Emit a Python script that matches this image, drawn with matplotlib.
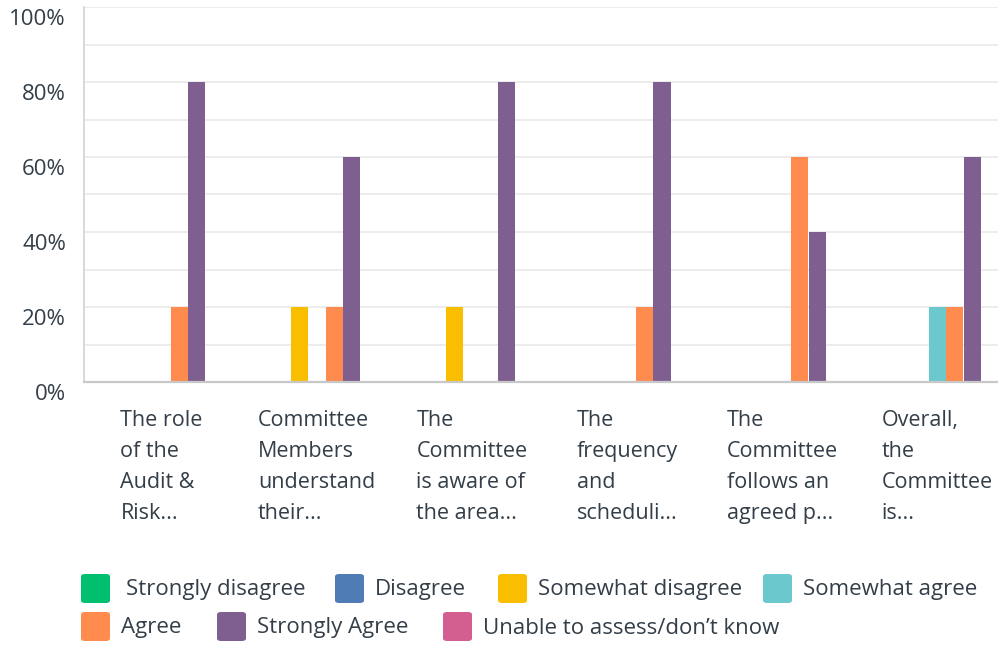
import numpy as np
import matplotlib; matplotlib.use('Agg')
import matplotlib.pyplot as plt
from matplotlib.patches import FancyBboxPatch
from matplotlib.ticker import MultipleLocator, FuncFormatter
from matplotlib.transforms import ScaledTranslation

plt.rcParams['font.family'] = ['Open Sans', 'DejaVu Sans']

# ── data ─────────────────────────────────────────────────────────────────────
QUESTIONS = [
    'The role\nof the\nAudit &\nRisk...',
    'Committee\nMembers\nunderstand\ntheir...',
    'The\nCommittee\nis aware of\nthe area...',
    'The\nfrequency\nand\nscheduli...',
    'The\nCommittee\nfollows an\nagreed p...',
    'Overall,\nthe\nCommittee\nis...',
]
RESPONSES = ['Strongly disagree', 'Disagree', 'Somewhat disagree', 'Somewhat agree',
             'Agree', 'Strongly Agree', 'Unable to assess/don\u2019t know']
COLOURS = ['#00bf6f', '#507cb6', '#f9be00', '#6bc8cd', '#ff8b4f', '#7f5f90', '#d25f90']

strongly_disagree = [0.0, 0.0, 0.0, 0.0, 0.0, 0.0]
disagree          = [0.0, 0.0, 0.0, 0.0, 0.0, 0.0]
somewhat_disagree = [0.0, 0.2, 0.2, 0.0, 0.0, 0.0]
somewhat_agree    = [0.0, 0.0, 0.0, 0.0, 0.0, 0.2]
agree             = [0.2, 0.2, 0.0, 0.2, 0.6, 0.2]
strongly_agree    = [0.8, 0.6, 0.8, 0.8, 0.4, 0.6]
unable            = [0.0, 0.0, 0.0, 0.0, 0.0, 0.0]
SERIES = [strongly_disagree, disagree, somewhat_disagree, somewhat_agree,
          agree, strongly_agree, unable]

TXT = '#333e48'
W, H = 998, 645

fig = plt.figure(figsize=(W / 100, H / 100), dpi=100)
# plot area runs a little past the right edge of the canvas
ax = fig.add_axes([84 / W, 263 / H, 931 / W, 375 / H])

x = np.arange(len(QUESTIONS)) + 0.5
pitch, bw = 0.1125, 0.11
for j, (vals, col) in enumerate(zip(SERIES, COLOURS)):
    ax.bar(x + (j - 3) * pitch, vals, width=bw, color=col, zorder=3, linewidth=0)

ax.set_xlim(0, len(QUESTIONS))
ax.set_ylim(0, 1)
ax.yaxis.set_major_locator(MultipleLocator(0.2))
ax.yaxis.set_minor_locator(MultipleLocator(0.1))
ax.yaxis.set_major_formatter(FuncFormatter(lambda v, _: f'{v * 100:.0f}%'))
ax.grid(True, axis='y', which='both', color='#ececec', lw=1.4, zorder=0)
ax.tick_params(axis='y', which='both', length=0, pad=13, labelsize=16, labelcolor=TXT)
# percent labels sit just below their gridlines
drop = ScaledTranslation(0, -10 / 100, fig.dpi_scale_trans)
for lbl in ax.get_yticklabels():
    lbl.set_transform(lbl.get_transform() + drop)

ax.set_xticks(x)
ax.set_xticklabels(QUESTIONS, fontsize=15.5, color=TXT, linespacing=1.62,
                   va='top', ha='center', multialignment='left')
ax.tick_params(axis='x', length=0, pad=20)

for s in ['top', 'right']:
    ax.spines[s].set_visible(False)
ax.spines['left'].set_color('#d6d6d6')
ax.spines['left'].set_linewidth(1.3)
ax.spines['bottom'].set_color('#c8c8c8')
ax.spines['bottom'].set_linewidth(1.6)
ax.spines['bottom'].set_zorder(4)

# ── legend (two rows, hand placed) ───────────────────────────────────────────
legend_pos = [(81, 589, 126), (335, 589, 375), (498, 589, 538), (763, 589, 803),
              (81, 627, 121), (217, 627, 257), (443, 627, 483)]
for (sx, sy, tx), name, col in zip(legend_pos, RESPONSES, COLOURS):
    fig.patches.append(FancyBboxPatch(
        (sx / W, 1 - (sy + 14) / H), 29 / W, 29 / H,
        boxstyle='round,pad=0,rounding_size=0.004',
        transform=fig.transFigure, facecolor=col, edgecolor='none'))
    fig.text(tx / W, 1 - (sy + 1) / H, name, fontsize=16, color=TXT,
             ha='left', va='center')

fig.savefig('out.png', dpi=100)
